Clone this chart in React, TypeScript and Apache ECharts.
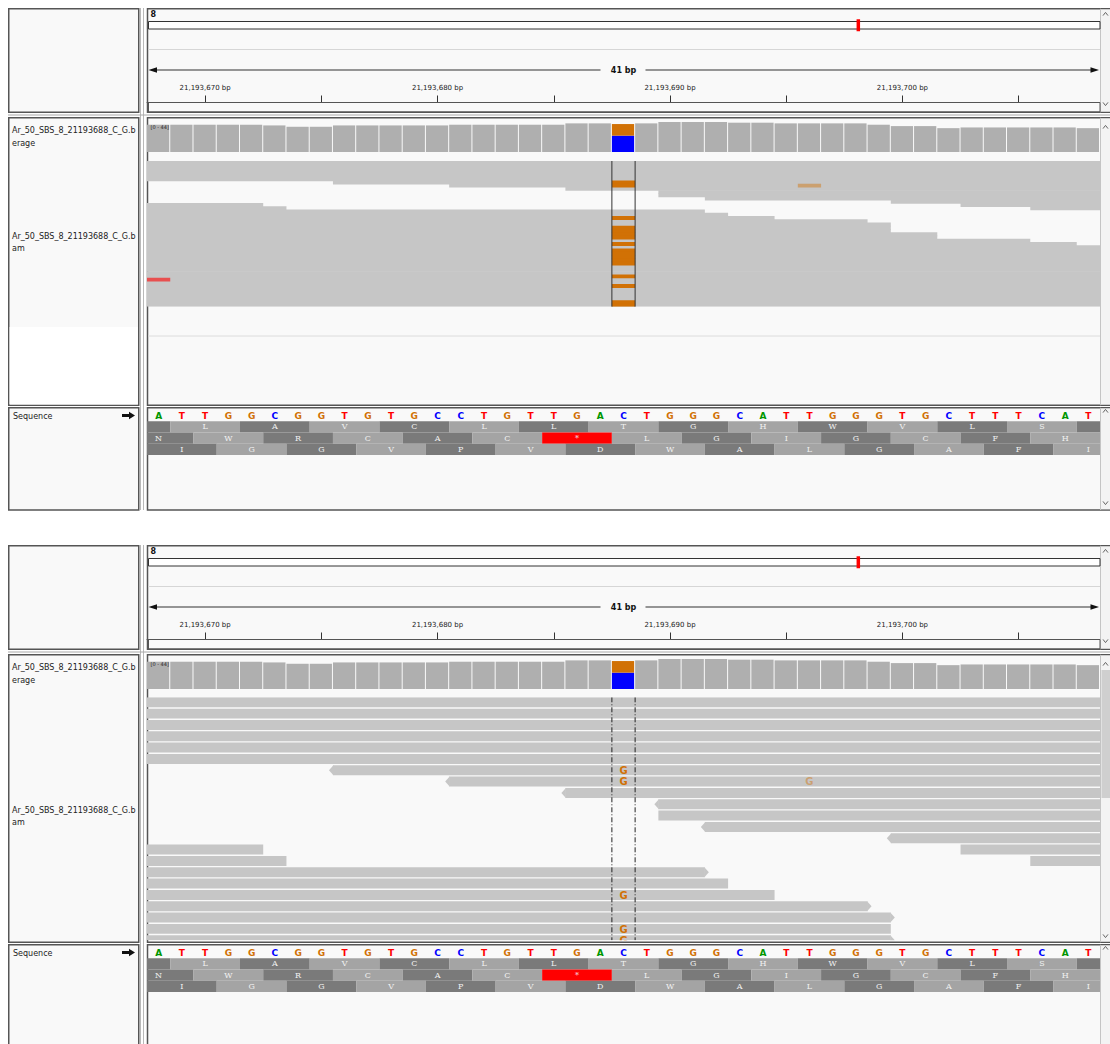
import React, { useEffect, useRef } from 'react';
import * as echarts from 'echarts';

// Genomic window shown in both views (1-based, inclusive)
const VIEW_START = 21193668;
const VIEW_END = 21193708;
const VARIANT_POS = 21193688;

const CHROM_NAME = '8';
// Position of the current view along the chromosome ideogram (fraction of its length)
const IDEOGRAM_MARK = 0.746;

const TRACK_NAME = 'Ar_50_SBS_8_21193688_C_G.b';
const COVERAGE_SUFFIX = 'erage';
const ALIGNMENT_SUFFIX = 'am';

// Reference sequence across the window
const REF_BASES = [
  'A', 'T', 'T', 'G', 'G', 'C', 'G', 'G', 'T', 'G', 'T', 'G', 'C', 'C', 'T', 'G', 'T', 'T', 'G', 'A', 'C',
  'T', 'G', 'G', 'G', 'C', 'A', 'T', 'T', 'G', 'G', 'G', 'T', 'G', 'C', 'T', 'T', 'T', 'C', 'A', 'T',
];

const RULER_TICKS = [21193670, 21193675, 21193680, 21193685, 21193690, 21193695, 21193700, 21193705];
const RULER_LABELS = [21193670, 21193680, 21193690, 21193700];

// Read depth per base
const COVERAGE_MAX = 44;
const COVERAGE = [
  40, 40, 40, 40, 40, 39, 37, 37, 39, 39, 39, 39, 39, 40, 40, 40, 40, 40, 42, 42, 41,
  42, 44, 44, 44, 43, 43, 42, 42, 42, 42, 40, 38, 38, 35, 36, 36, 36, 36, 36, 35,
];
// Allele counts at the variant site (stacked bottom to top)
const VARIANT_ALLELES: [string, number][] = [['C', 24], ['G', 17]];

// Three-frame translation: offset of each frame's first codon, then its amino acids
const FRAME_OFFSETS = [-2, -1, 0];
const FRAME_AMINO = [
  ['', 'L', 'A', 'V', 'C', 'L', 'L', 'T', 'G', 'H', 'W', 'V', 'L', 'S', ''],
  ['N', 'W', 'R', 'C', 'A', 'C', '*', 'L', 'G', 'I', 'G', 'C', 'F', 'H'],
  ['I', 'G', 'G', 'V', 'P', 'V', 'D', 'W', 'A', 'L', 'G', 'A', 'F', 'I'],
];

// Packed alignments: [row, first base offset, last base offset, strand]
const READS: [number, number, number, number][] = [
  [0, -40, 80, 1], [1, -40, 80, -1], [2, -40, 80, 1], [3, -40, 80, -1], [4, -40, 80, 1], [5, -40, 80, -1],
  [6, 8, 80, -1], [7, 13, 80, -1], [8, 18, 80, -1], [9, 22, 80, -1], [10, 22, 80, 1], [11, 24, 80, -1],
  [12, 32, 80, -1], [13, -40, 4, -1], [13, 35, 80, 1], [14, -40, 5, -1], [14, 38, 80, 1],
  [15, -40, 23, 1], [16, -40, 24, -1], [17, -40, 26, -1], [18, -40, 30, 1], [19, -40, 31, 1],
  [20, -40, 31, -1], [21, -40, 31, 1], [22, -40, 33, 1], [23, -40, 33, -1], [24, -40, 37, 1],
  [25, -40, 39, -1], [26, -40, 80, 1], [27, -40, 80, -1], [28, -40, 80, 1], [29, -40, 80, -1],
  [30, -40, 80, 1], [31, -40, 80, -1], [32, -40, 80, 1], [33, -40, 80, -1], [34, -40, 80, 1],
  [35, -40, 80, -1], [36, -40, 80, 1], [37, -40, 80, -1], [38, -40, 80, 1], [39, -40, 80, -1],
  [40, -40, 80, 1], [41, -40, 80, -1], [42, -40, 80, 1], [43, -40, 80, -1], [44, -40, 80, 1],
];
const ROW_COUNT = 45;

// Mismatched bases: [row, base offset, base, opacity (low base quality is faint)]
const MISMATCHES: [number, number, string, number][] = [
  [6, 20, 'G', 1], [7, 20, 'G', 1], [7, 28, 'G', 0.45], [17, 20, 'G', 1], [20, 20, 'G', 1],
  [21, 20, 'G', 1], [22, 20, 'G', 1], [23, 20, 'G', 1], [25, 20, 'G', 1], [27, 20, 'G', 1],
  [28, 20, 'G', 1], [29, 20, 'G', 1], [30, 20, 'G', 1], [31, 20, 'G', 1], [35, 20, 'G', 1],
  [36, 0, 'T', 0.6], [38, 20, 'G', 1], [43, 20, 'G', 1], [44, 20, 'G', 1],
];

const BASE_COLORS: Record<string, string> = { A: '#009600', C: '#0000ff', G: '#d17105', T: '#ff0000' };

const PANELS = [
  { offset: 0, mode: 'squished' },
  { offset: 537, mode: 'expanded' },
];

const DATA_LEFT = 147;
const DATA_WIDTH = 953;
const SQUISHED_ROW = 3.24;
const EXPANDED_ROW = 11.33;
const PANEL_BG = '#f9f9f9';
const READ_FILL = '#c6c6c6';
const BORDER = '#555555';
const FONT = '"DejaVu Sans", sans-serif';

function fmtBp(v: number) {
  return String(Math.round(v)).replace(/\B(?=(\d{3})+(?!\d))/g, ',') + ' bp';
}

function textEl(text: string, x: number, y: number, font: string, fill: string, align = 'left', z = 10) {
  return {
    type: 'text', x, y, z, silent: true,
    style: { text, font, fill, align, verticalAlign: 'middle', textAlign: align, textVerticalAlign: 'middle' },
  };
}

function chevron(x: number, y: number, up: boolean) {
  const d = up ? 1.6 : -1.6;
  return {
    type: 'polyline', z: 10, silent: true,
    shape: { points: [[x - 2.5, y + d], [x, y - d], [x + 2.5, y + d]] },
    style: { stroke: '#666', lineWidth: 1, fill: 'none' },
  };
}

function buildOption() {
  const grids: any[] = [];
  const xAxes: any[] = [];
  const yAxes: any[] = [];
  const series: any[] = [];
  const elements: any[] = [];
  const xMin = VIEW_START - 0.5;
  const xMax = VIEW_END + 0.5;

  const addGrid = (grid: any, xa: any, ya: any) => {
    const gi = grids.length;
    grids.push({ containLabel: false, outerBoundsMode: 'none', ...grid });
    xAxes.push({ gridIndex: gi, type: 'value', ...xa });
    yAxes.push({ gridIndex: gi, type: 'value', show: false, ...ya });
    return gi;
  };
  const hiddenX = { min: xMin, max: xMax, show: false };

  PANELS.forEach(({ offset: oy, mode }) => {
    const expanded = mode === 'expanded';

    // ---------- frame chrome ----------
    const box = (x: number, y: number, w: number, h: number, fill: string) => ({
      type: 'rect', z: 0, silent: true,
      shape: { x, y, width: w, height: h },
      style: { fill, stroke: BORDER, lineWidth: 1.5 },
    });
    const seqBottom = expanded ? 1060 : 510;
    // name column
    elements.push(box(8.75, 8.75 + oy, 130, 103.5, PANEL_BG));
    elements.push(box(8.75, 117.75 + oy, 130, 287.5, PANEL_BG));
    elements.push(box(8.75, 407.75 + oy, 130, seqBottom - 407.75, PANEL_BG));
    if (!expanded) {
      elements.push({ type: 'rect', z: 1, silent: true, shape: { x: 9.6, y: 327 + oy, width: 128.3, height: 77.4 }, style: { fill: '#ffffff' } });
    }
    // data column
    elements.push(box(147.5, 8.75 + oy, 966, 103.5, PANEL_BG));
    elements.push(box(147.5, 117.75 + oy, 966, 287.5, PANEL_BG));
    elements.push(box(147.5, 407.75 + oy, 966, seqBottom - 407.75, PANEL_BG));
    // divider between name and data columns
    const divBottom = expanded ? 1044 : 510;
    [140.5, 143.5].forEach((x) => {
      elements.push({ type: 'line', z: 1, silent: true, shape: { x1: x, y1: 8 + oy, x2: x, y2: divBottom }, style: { stroke: '#b9b9b9', lineWidth: 1 } });
    });
    // gap between the header and the track area
    elements.push({ type: 'line', z: 1, silent: true, shape: { x1: 8, y1: 115 + oy, x2: 1110, y2: 115 + oy }, style: { stroke: '#a8a8a8', lineWidth: 1 } });
    // scroll column
    [[8.75, 112.25], [117.75, 405.25], [407.75, seqBottom]].forEach(([y0, y1]) => {
      elements.push({ type: 'rect', z: 1, silent: true, shape: { x: 1100.5, y: y0 + oy + 0.75, width: 10, height: y1 - y0 - 1.5 }, style: { fill: '#f3f3f3' } });
      elements.push({ type: 'line', z: 1, silent: true, shape: { x1: 1100.5, y1: y0 + oy, x2: 1100.5, y2: y1 + oy }, style: { stroke: '#c4c4c4', lineWidth: 1 } });
    });
    if (expanded) {
      elements.push({ type: 'rect', z: 2, silent: true, shape: { x: 1101.5, y: 670, width: 8.5, height: 128 }, style: { fill: '#cfcfcf' } });
    }
    elements.push(chevron(1105.5, 14 + oy, true));
    elements.push(chevron(1105.5, 104 + oy, false));
    elements.push(chevron(1105.5, 127 + oy, true));
    if (expanded) elements.push(chevron(1105.5, 936, false));
    elements.push(chevron(1105.5, 411 + oy, true));
    if (!expanded) elements.push(chevron(1105.5, 503 + oy, false));

    // ---------- header: ideogram + ruler ----------
    elements.push(textEl(CHROM_NAME, 150.5, 14.5 + oy, `bold 8px ${FONT}`, '#111'));
    elements.push({
      type: 'rect', z: 5, silent: true,
      shape: { x: 148.5, y: 21.5 + oy, width: 951.5, height: 7.5 },
      style: { fill: '#ffffff', stroke: '#333', lineWidth: 1 },
    });
    elements.push({ type: 'line', z: 5, silent: true, shape: { x1: 148, y1: 49.5 + oy, x2: 1100, y2: 49.5 + oy }, style: { stroke: '#d6d6d6', lineWidth: 1 } });
    const spanCenter = DATA_LEFT + DATA_WIDTH / 2;
    const spanY = 70 + oy;
    elements.push({ type: 'line', z: 5, silent: true, shape: { x1: 152, y1: spanY, x2: spanCenter - 23, y2: spanY }, style: { stroke: '#333', lineWidth: 1.2 } });
    elements.push({ type: 'line', z: 5, silent: true, shape: { x1: spanCenter + 22, y1: spanY, x2: 1095, y2: spanY }, style: { stroke: '#333', lineWidth: 1.2 } });
    elements.push({ type: 'polygon', z: 5, silent: true, shape: { points: [[148.5, spanY], [157, spanY - 2.8], [157, spanY + 2.8]] }, style: { fill: '#111' } });
    elements.push({ type: 'polygon', z: 5, silent: true, shape: { points: [[1099, spanY], [1090.5, spanY - 2.8], [1090.5, spanY + 2.8]] }, style: { fill: '#111' } });
    elements.push(textEl(`${VIEW_END - VIEW_START + 1} bp`, spanCenter, spanY + 0.3, `bold 8px ${FONT}`, '#111', 'center'));
    elements.push({
      type: 'rect', z: 5, silent: true,
      shape: { x: 148.5, y: 102.5 + oy, width: 951.5, height: 9.5 },
      style: { fill: 'none', stroke: '#555', lineWidth: 1 },
    });

    const gIdeo = addGrid(
      { left: 148.5, width: 951.5, top: 21.5 + oy, height: 7.5 },
      { min: 0, max: 1, show: false },
      { min: 0, max: 1 },
    );
    series.push({
      type: 'custom', xAxisIndex: gIdeo, yAxisIndex: gIdeo, silent: true, z: 6,
      data: [[IDEOGRAM_MARK, 0.5]],
      renderItem: (_p: any, api: any) => {
        const [cx, cy] = api.coord([api.value(0), api.value(1)]);
        return { type: 'rect', shape: { x: cx - 1.75, y: cy - 6, width: 3.5, height: 12 }, style: { fill: '#ff0000' } };
      },
    });

    addGrid(
      { left: DATA_LEFT, width: DATA_WIDTH, top: 60 + oy, height: 42.5 },
      {
        min: xMin, max: xMax, show: true, position: 'bottom',
        axisLine: { show: true, onZero: false, lineStyle: { color: '#555', width: 1 } },
        axisTick: { show: true, inside: true, length: 7, customValues: RULER_TICKS, lineStyle: { color: '#333', width: 1 } },
        axisLabel: {
          show: true, inside: true, margin: 11, customValues: RULER_LABELS,
          formatter: (v: number) => fmtBp(v), fontSize: 7, fontFamily: FONT, color: '#222',
        },
        splitLine: { show: false },
      },
      { min: 0, max: 1 },
    );

    // ---------- coverage ----------
    elements.push(textEl(`[${0} - ${COVERAGE_MAX}]`, 150.5, 127 + oy, `5px ${FONT}`, '#222', 'left', 12));
    elements.push(textEl(TRACK_NAME, 12, 130 + oy, `8px ${FONT}`, '#222'));
    elements.push(textEl(COVERAGE_SUFFIX, 12, 143.5 + oy, `8px ${FONT}`, '#222'));
    const gCov = addGrid(
      { left: DATA_LEFT, width: DATA_WIDTH, top: 122 + oy, height: 30 },
      hiddenX,
      { min: 0, max: COVERAGE_MAX },
    );
    series.push({
      type: 'custom', xAxisIndex: gCov, yAxisIndex: gCov, silent: true, clip: true,
      data: COVERAGE.map((c, i) => [VIEW_START + i, c]),
      renderItem: (_p: any, api: any) => {
        const pos = api.value(0);
        const count = api.value(1);
        const [x0, yTop] = api.coord([pos - 0.5, count]);
        const [x1, yBase] = api.coord([pos + 0.5, 0]);
        const w = x1 - x0 - 1;
        if (pos === VARIANT_POS) {
          let acc = 0;
          const children: any[] = [];
          VARIANT_ALLELES.forEach(([base, n]) => {
            const yb = api.coord([pos, acc])[1];
            const yt = api.coord([pos, acc + n])[1];
            children.push({ type: 'rect', shape: { x: x0, y: yt, width: w, height: yb - yt }, style: { fill: BASE_COLORS[base] } });
            acc += n;
          });
          return { type: 'group', children };
        }
        return { type: 'rect', shape: { x: x0, y: yTop, width: w, height: yBase - yTop }, style: { fill: '#afafaf' } };
      },
    });

    // ---------- alignments ----------
    const readsTop = (expanded ? 160.3 : 161) + oy;
    const readsHeight = expanded ? 243 : ROW_COUNT * SQUISHED_ROW;
    const rowMax = expanded ? readsHeight / EXPANDED_ROW : ROW_COUNT;
    const fillFrac = expanded ? 0.88 : 1;
    // squished rows touch each other; overlap them slightly so no seams show
    const seam = expanded ? 0 : 0.7;
    elements.push(textEl(TRACK_NAME, 12, expanded ? 810 : 236, `8px ${FONT}`, '#222'));
    elements.push(textEl(ALIGNMENT_SUFFIX, 12, expanded ? 822.5 : 248.5, `8px ${FONT}`, '#222'));
    if (!expanded) {
      elements.push({ type: 'line', z: 3, silent: true, shape: { x1: 148, y1: 336 + oy, x2: 1100, y2: 336 + oy }, style: { stroke: '#dcdcdc', lineWidth: 1 } });
    }
    const gReads = addGrid(
      { left: DATA_LEFT, width: DATA_WIDTH, top: readsTop, height: readsHeight },
      hiddenX,
      { min: 0, max: rowMax, inverse: true },
    );
    series.push({
      type: 'custom', xAxisIndex: gReads, yAxisIndex: gReads, silent: true, clip: true, z: 3,
      data: READS.map(([row, first, last, strand]) => [VIEW_START + first - 0.5, VIEW_START + last + 0.5, row, strand]),
      renderItem: (params: any, api: any) => {
        const cs = params.coordSys;
        const row = api.value(2);
        if (row >= rowMax) return null;
        const start = api.value(0);
        const end = api.value(1);
        const strand = api.value(3);
        const [xa, ya] = api.coord([start, row]);
        const [xb, yb0] = api.coord([end, row + fillFrac]);
        const yb = Math.min(yb0 + (row < rowMax - 1 ? seam : 0), cs.y + cs.height);
        const left = Math.max(xa, cs.x);
        const right = Math.min(xb, cs.x + cs.width);
        const children: any[] = [
          { type: 'rect', shape: { x: left, y: ya, width: right - left, height: yb - ya }, style: { fill: READ_FILL } },
        ];
        if (expanded) {
          const mid = (ya + yb0) / 2;
          if (strand > 0 && xb <= cs.x + cs.width) {
            children.push({ type: 'polygon', shape: { points: [[xb - 0.5, ya], [xb + 4, mid], [xb - 0.5, yb0]] }, style: { fill: READ_FILL } });
          }
          if (strand < 0 && xa >= cs.x) {
            children.push({ type: 'polygon', shape: { points: [[xa + 0.5, ya], [xa - 4, mid], [xa + 0.5, yb0]] }, style: { fill: READ_FILL } });
          }
        }
        return { type: 'group', children };
      },
    });
    series.push({
      type: 'custom', xAxisIndex: gReads, yAxisIndex: gReads, silent: true, clip: true, z: 4,
      data: MISMATCHES.map(([row, off]) => [VIEW_START + off, row]),
      renderItem: (params: any, api: any) => {
        const [, , base, alpha] = MISMATCHES[params.dataIndex];
        const pos = api.value(0);
        const row = api.value(1);
        if (row >= rowMax) return null;
        if (expanded) {
          const [cx, cy] = api.coord([pos, row + 0.47]);
          return {
            type: 'text', x: cx, y: cy,
            style: {
              text: base, fill: BASE_COLORS[base], opacity: alpha, font: `bold 10px ${FONT}`,
              align: 'center', verticalAlign: 'middle', textAlign: 'center', textVerticalAlign: 'middle',
            },
          };
        }
        const [x0, y0] = api.coord([pos - 0.5, row]);
        const [x1, y1] = api.coord([pos + 0.5, row + 1]);
        const extra = row < rowMax - 1 ? seam : 0;
        return { type: 'rect', shape: { x: x0, y: y0, width: x1 - x0, height: y1 - y0 + extra }, style: { fill: BASE_COLORS[base], opacity: alpha } };
      },
    });
    series.push({
      type: 'custom', xAxisIndex: gReads, yAxisIndex: gReads, silent: true, clip: true, z: 5,
      data: [[VARIANT_POS]],
      renderItem: (_p: any, api: any) => {
        const pos = api.value(0);
        const lineStyle = expanded
          ? { stroke: '#222', lineWidth: 1, lineDash: [5, 2, 1, 2] }
          : { stroke: '#333', lineWidth: 1 };
        const edges = [pos - 0.5, pos + 0.5].map((x) => {
          const [lx, ly0] = api.coord([x, 0]);
          const ly1 = api.coord([x, rowMax])[1];
          return { type: 'line', shape: { x1: lx, y1: ly0, x2: lx, y2: ly1 }, style: lineStyle };
        });
        return { type: 'group', children: edges };
      },
    });

    // ---------- sequence + translation ----------
    elements.push(textEl('Sequence', 13, 416 + oy, `8px ${FONT}`, '#222'));
    const ay = 415.5 + oy;
    elements.push({
      type: 'polygon', z: 10, silent: true,
      shape: { points: [[122, ay - 1.5], [129, ay - 1.5], [129, ay - 3.8], [135, ay], [129, ay + 3.8], [129, ay + 1.5], [122, ay + 1.5]] },
      style: { fill: '#111' },
    });
    const gSeq = addGrid(
      { left: DATA_LEFT, width: DATA_WIDTH, top: 410 + oy, height: 45 },
      hiddenX,
      { min: 0, max: 4, inverse: true },
    );
    const codonData: number[][] = [];
    FRAME_AMINO.forEach((aas, f) => {
      aas.forEach((_aa, k) => codonData.push([VIEW_START + FRAME_OFFSETS[f] + 3 * k, f, k]));
    });
    series.push({
      type: 'custom', xAxisIndex: gSeq, yAxisIndex: gSeq, silent: true, clip: true,
      data: codonData,
      renderItem: (_p: any, api: any) => {
        const start = api.value(0);
        const f = api.value(1);
        const k = api.value(2);
        const aa = FRAME_AMINO[f][k];
        const [x0, y0] = api.coord([start - 0.5, f + 1]);
        const [x1, y1] = api.coord([start + 2.5, f + 2]);
        const fill = aa === '*' ? '#ff0000' : k % 2 === 0 ? '#7a7a7a' : '#a4a4a4';
        const children: any[] = [{ type: 'rect', shape: { x: x0, y: y0, width: x1 - x0, height: y1 - y0 }, style: { fill } }];
        if (aa) {
          const [cx, cy] = api.coord([start + 1, f + 1.5]);
          children.push({
            type: 'text', x: cx, y: cy,
            style: {
              text: aa, fill: '#f2f2f2', font: '8px "DejaVu Serif", serif',
              align: 'center', verticalAlign: 'middle', textAlign: 'center', textVerticalAlign: 'middle',
            },
          });
        }
        return { type: 'group', children };
      },
    });
    series.push({
      type: 'custom', xAxisIndex: gSeq, yAxisIndex: gSeq, silent: true, clip: true,
      data: REF_BASES.map((_b, i) => [VIEW_START + i, 0.5]),
      renderItem: (params: any, api: any) => {
        const base = REF_BASES[params.dataIndex];
        const [cx, cy] = api.coord([api.value(0), api.value(1)]);
        return {
          type: 'text', x: cx, y: cy + 0.5,
          style: {
            text: base, fill: BASE_COLORS[base], font: `bold 9px ${FONT}`,
            align: 'center', verticalAlign: 'middle', textAlign: 'center', textVerticalAlign: 'middle',
          },
        };
      },
    });
  });

  return {
    animation: false,
    backgroundColor: '#ffffff',
    grid: grids,
    xAxis: xAxes,
    yAxis: yAxes,
    series,
    graphic: { elements },
  };
}

export default function App() {
  const ref = useRef<HTMLDivElement>(null);
  useEffect(() => {
    if (!ref.current) return;
    const chart = echarts.init(ref.current, null, { renderer: 'svg', width: 1110, height: 1044 });
    chart.setOption(buildOption() as any);
    return () => chart.dispose();
  }, []);
  return (
    <div
      ref={ref}
      style={{ position: 'absolute', left: 0, top: 0, width: 1110, height: 1044, background: '#ffffff' }}
    />
  );
}
